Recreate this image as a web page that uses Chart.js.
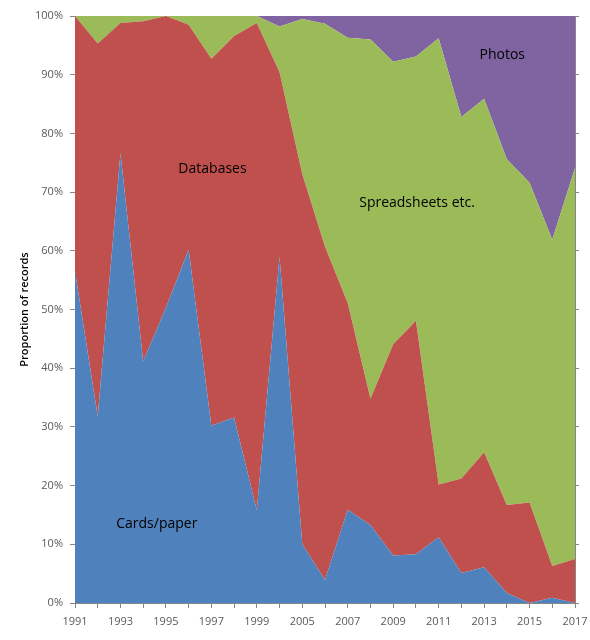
<!DOCTYPE html>
<html>
<head>
<meta charset="utf-8">
<script src="https://cdn.jsdelivr.net/npm/chart.js@4/dist/chart.umd.min.js"></script>
<style>
  html, body { margin: 0; padding: 0; background: #fff; }
  #wrap { width: 590px; height: 640px; position: relative; }
</style>
</head>
<body>
<div id="wrap"><canvas id="recChart"></canvas></div>
<script>
// Andel poster per lagringsform och år (procent, staplade till 100)
const years = [
  "1991","1992","1993","1994","1995","1996","1997","1998","1999","2004",
  "2005","2006","2007","2008","2009","2010","2011","2012","2013","2014",
  "2015","2016","2017"
];
const cardsPaper = [56.5, 31.8, 76.6, 41.2, 50.3, 60.2, 30.2, 31.6, 15.8, 59.0,
  10.0, 3.9, 15.9, 13.3, 8.1, 8.3, 11.2, 5.1, 6.1, 1.7, 0, 0.9, 0];
const databases = [43.5, 63.5, 22.2, 57.9, 49.7, 38.3, 62.5, 65.0, 83.0, 31.4,
  63.1, 56.8, 35.2, 21.5, 36.0, 39.8, 9.0, 16.1, 19.6, 15.0, 17.1, 5.4, 7.5];
const spreadsheets = [0, 4.7, 1.2, 0.9, 0, 1.5, 7.3, 3.4, 1.2, 7.8,
  26.4, 38.0, 45.2, 61.2, 48.1, 45.0, 76.0, 61.6, 60.2, 58.9, 54.5, 55.6, 66.6];
const photos = [0, 0, 0, 0, 0, 0, 0, 0, 0, 1.8,
  0.5, 1.3, 3.7, 4.0, 7.8, 6.9, 3.8, 17.2, 14.1, 24.4, 28.4, 38.1, 25.9];
const yTicks = [0, 10, 20, 30, 40, 50, 60, 70, 80, 90, 100];

// Etiketter i ytorna (kategoriindex, procent)
const areaLabels = [
  { text: "Cards/paper", x: 3.6, y: 13.5 },
  { text: "Databases", x: 6.05, y: 73.9 },
  { text: "Spreadsheets etc.", x: 15.05, y: 68.1 },
  { text: "Photos", x: 18.8, y: 93.3 },
];

Chart.defaults.font.family = "'Open Sans', sans-serif";
Chart.defaults.font.size = 11;
Chart.defaults.color = "#595959";

const axisGrey = "#868686";

const labelPlugin = {
  id: "areaLabels",
  afterDatasetsDraw(chart) {
    const { ctx, scales } = chart;
    ctx.save();
    ctx.font = "14px 'Open Sans', sans-serif";
    ctx.fillStyle = "#000";
    ctx.textAlign = "center";
    ctx.textBaseline = "middle";
    areaLabels.forEach((l) => {
      ctx.fillText(l.text, scales.x.getPixelForValue(l.x), scales.y.getPixelForValue(l.y));
    });
    ctx.restore();
  },
};

const area = (label, data, color, fill) => ({
  label, data,
  backgroundColor: color,
  borderColor: color,
  borderWidth: 0,
  pointRadius: 0,
  tension: 0,
  fill,
});

new Chart(document.getElementById("recChart"), {
  type: "line",
  data: {
    labels: years,
    datasets: [
      area("Cards/paper", cardsPaper, "#4F81BD", "origin"),
      area("Databases", databases, "#C0504D", "-1"),
      area("Spreadsheets etc.", spreadsheets, "#9BBB59", "-1"),
      area("Photos", photos, "#8064A2", "-1"),
    ],
  },
  options: {
    responsive: true,
    maintainAspectRatio: false,
    animation: false,
    layout: { autoPadding: false, padding: { top: 16, left: 0, right: 0, bottom: 0 } },
    plugins: {
      legend: { display: false },
      tooltip: { enabled: false },
    },
    scales: {
      x: {
        offset: false,
        grid: { color: "transparent", tickColor: axisGrey, tickLength: 5, drawTicks: true },
        border: { color: axisGrey },
        ticks: {
          autoSkip: false,
          maxRotation: 0,
          padding: 7,
          color: "#595959",
          callback: (v, i) => (i % 2 === 0 ? years[i] : ""),
        },
        afterFit: (s) => {
          s.height = 37;
          s.paddingLeft = 0;
          s.paddingRight = 0;
        },
      },
      y: {
        stacked: true,
        min: 0,
        max: 100,
        afterBuildTicks: (s) => { s.ticks = yTicks.map((v) => ({ value: v })); },
        grid: { color: "transparent", tickColor: axisGrey, tickLength: 5, drawTicks: true },
        border: { color: axisGrey },
        ticks: { padding: 7, color: "#595959", callback: (v) => v + "%" },
        title: {
          display: true,
          text: "Proportion of records",
          color: "#000",
          font: { size: 11, weight: "600" },
          padding: { top: 18, bottom: 0 },
        },
        afterFit: (s) => { s.width = 75; },
      },
      yRight: {
        position: "right",
        min: 0,
        max: 100,
        afterBuildTicks: (s) => { s.ticks = yTicks.map((v) => ({ value: v })); },
        grid: { color: "transparent", tickColor: axisGrey, tickLength: 4, drawTicks: true },
        border: { color: axisGrey },
        ticks: { display: false },
        afterFit: (s) => { s.width = 15; },
      },
    },
  },
  plugins: [labelPlugin],
});
</script>
</body>
</html>
